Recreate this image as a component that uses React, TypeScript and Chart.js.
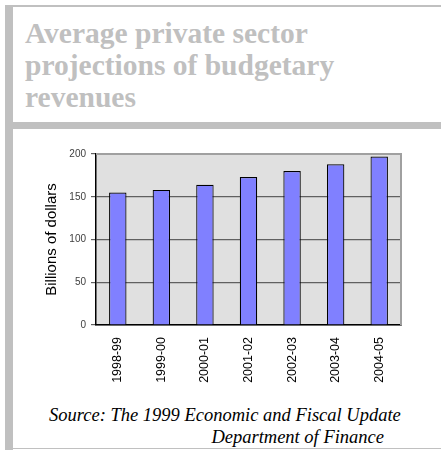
import React, { useEffect, useRef } from "react";
import { Chart, registerables } from "chart.js";

Chart.register(...registerables);

const categories = ["1998-99", "1999-00", "2000-01", "2001-02", "2002-03", "2003-04", "2004-05"];
const revenues = [155, 158, 164, 173, 180, 188, 197];
const yTicks = [0, 50, 100, 150, 200];

const titleLines = ["Average private sector", "projections of budgetary", "revenues"];
const sourceLine1 = "Source: The 1999 Economic and Fiscal Update";
const sourceLine2 = "Department of Finance";
const yAxisTitle = "Billions of dollars";

const plotFramePlugin = {
  id: "plotFrame",
  beforeDraw(chart: any) {
    const { ctx, chartArea } = chart;
    if (!chartArea) return;
    ctx.save();
    ctx.fillStyle = "#e0e0e0";
    ctx.fillRect(chartArea.left, chartArea.top, chartArea.right - chartArea.left, chartArea.bottom - chartArea.top);
    ctx.restore();
  },
  afterDatasetsDraw(chart: any) {
    const { ctx, chartArea } = chart;
    ctx.save();
    ctx.strokeStyle = "#a0a0a0";
    ctx.lineWidth = 2;
    ctx.beginPath();
    ctx.moveTo(chartArea.left, chartArea.top);
    ctx.lineTo(chartArea.right, chartArea.top);
    ctx.lineTo(chartArea.right, chartArea.bottom);
    ctx.stroke();
    ctx.restore();
  },
};

export default function App() {
  const canvasRef = useRef<HTMLCanvasElement>(null);

  useEffect(() => {
    if (!canvasRef.current) return;
    const chart = new Chart(canvasRef.current, {
      type: "bar",
      data: {
        labels: categories,
        datasets: [
          {
            data: revenues,
            backgroundColor: "#8080ff",
            borderColor: "#000000",
            borderWidth: 1.2,
            categoryPercentage: 1,
            barPercentage: 0.4,
          },
        ],
      },
      plugins: [plotFramePlugin],
      options: {
        animation: false,
        responsive: false,
        layout: { padding: { top: 14, right: 19, bottom: 0, left: 0 } },
        plugins: { legend: { display: false }, tooltip: { enabled: false } },
        scales: {
          x: {
            grid: { display: true, color: "transparent", drawTicks: false },
            border: { display: true, color: "#000000", width: 1.5 },
            ticks: {
              minRotation: 90,
              maxRotation: 90,
              padding: 12,
              color: "#000000",
              font: { family: "'Liberation Sans', Arial, sans-serif", size: 12.5 },
            },
            afterFit(scale: any) {
              scale.height = 70;
            },
          },
          y: {
            min: 0,
            max: 200,
            afterBuildTicks(scale: any) {
              scale.ticks = yTicks.map((v) => ({ value: v }));
            },
            grid: { color: "#606060", lineWidth: 1.2, tickLength: 5, drawTicks: true },
            border: { display: true, color: "#000000", width: 1.5 },
            ticks: {
              padding: 5,
              color: "#404040",
              font: { family: "'Liberation Sans', Arial, sans-serif", size: 10 },
            },
            title: {
              display: true,
              text: yAxisTitle,
              color: "#000000",
              padding: { top: 13, bottom: 0 },
              font: { family: "'Liberation Sans', Arial, sans-serif", size: 15 },
            },
            afterFit(scale: any) {
              scale.width = 66;
            },
          },
        },
      },
    } as any);
    return () => chart.destroy();
  }, []);

  const serif = "'Liberation Serif', 'Times New Roman', serif";
  const sourceStyle: React.CSSProperties = {
    position: "absolute",
    fontFamily: serif,
    fontStyle: "italic",
    fontSize: 18.5,
    lineHeight: "22px",
    color: "#000000",
    whiteSpace: "nowrap",
  };

  return (
    <div style={{ position: "absolute", left: 0, top: 0, width: 441, height: 450, background: "#ffffff", overflow: "hidden" }}>
      <div style={{ position: "absolute", left: 5, top: 5, width: 8, height: 445, background: "#c0c0c0" }} />
      <div style={{ position: "absolute", left: 5, top: 5, width: 436, height: 2, background: "#c0c0c0" }} />
      <div style={{ position: "absolute", left: 5, top: 122, width: 436, height: 7, background: "#c0c0c0" }} />
      <div style={{ position: "absolute", left: 13, top: 448, width: 428, height: 1, background: "#c0c0c0" }} />
      <div
        style={{
          position: "absolute",
          left: 25,
          top: 17,
          fontFamily: serif,
          fontWeight: "bold",
          fontSize: 29.5,
          lineHeight: "32px",
          color: "#c0c0c0",
          whiteSpace: "nowrap",
        }}
      >
        {titleLines.map((l, i) => (
          <div key={i}>{l}</div>
        ))}
      </div>
      <canvas ref={canvasRef} width={390} height={255} style={{ position: "absolute", left: 30, top: 140, width: 390, height: 255 }} />
      <div style={{ ...sourceStyle, left: 49, top: 404 }}>{sourceLine1}</div>
      <div style={{ ...sourceStyle, right: 57, top: 426, textAlign: "right" }}>{sourceLine2}</div>
    </div>
  );
}
